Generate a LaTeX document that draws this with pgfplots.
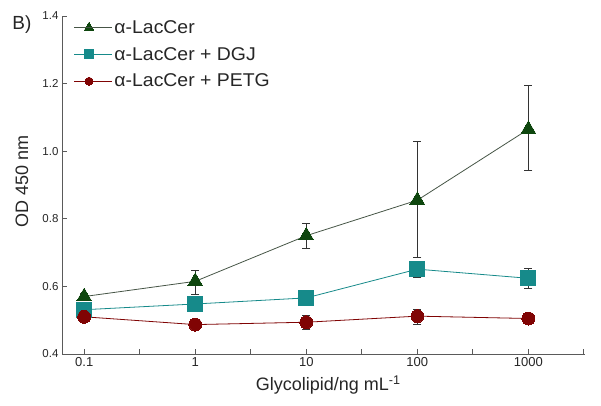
\documentclass[border=0pt]{standalone}
\usepackage{fontspec}
\setmainfont{Liberation Sans}
\newfontfamily\legfont[FakeStretch=1.05]{Liberation Sans}
\usepackage{pgfplots}
\usepackage{pgfplotstable}
\pgfplotsset{compat=1.18}
\definecolor{cgreen}{RGB}{14,70,14}
\definecolor{cgline}{RGB}{70,85,70}
\definecolor{cteal}{RGB}{22,138,138}
\definecolor{cred}{RGB}{128,4,4}
\definecolor{caxis}{RGB}{90,90,90}

\pgfplotstableread{
x y ep em
0 0.570 0.010 0.010
1 0.615 0.033 0.040
2 0.750 0.037 0.039
3 0.855 0.174 0.168
4 1.065 0.130 0.121
}\lac
\pgfplotstableread{
x y ep em
0 0.531 0.000 0.000
1 0.548 0.000 0.000
2 0.566 0.000 0.000
3 0.651 0.000 0.023
4 0.624 0.028 0.031
}\dgj
\pgfplotstableread{
x y ep em
0 0.510 0.008 0.008
1 0.487 0.005 0.005
2 0.494 0.020 0.022
3 0.512 0.020 0.023
4 0.505 0.006 0.006
}\petg

\begin{document}
\begin{tikzpicture}
\begin{axis}[
  at={(0,0)}, anchor=south west,
  scale only axis, width=523pt, height=338pt,
  xmin=-0.2, xmax=4.51, ymin=0.4, ymax=1.4,
  axis x line*=bottom, axis y line*=left,
  axis line style={-, draw=caxis, line width=0.9pt},
  xtick={0,1,2,3,4}, xticklabels={0.1,1,10,100,1000},
  minor xtick={0.5,1.5,2.5,3.5,4.5},
  ytick={0.4,0.6,0.8,1.0,1.2,1.4},
  /pgf/number format/fixed, /pgf/number format/fixed zerofill, /pgf/number format/precision=1,
  /pgf/number format/assume math mode=true,
  tick align=inside, major tick length=5pt, minor tick length=5pt,
  tick style={draw=caxis, line width=0.8pt},
  xticklabel style={font=\fontsize{13}{15}\selectfont, text=black!85},
  yticklabel style={font=\fontsize{11.5}{14}\selectfont, text=black!85},
  ylabel={OD 450 nm},
  xlabel={Glycolipid/ng mL\textsuperscript{-1}},
  label style={font=\fontsize{18}{20}\selectfont, text=black!85},
  ylabel style={at={(axis description cs:-0.0765,0.51)}, anchor=center},
  xlabel style={at={(axis description cs:0.509,-0.091)}, anchor=center},
  legend style={at={(axis description cs:0.02,0.997)}, anchor=north west, draw=none, fill=none,
    font=\legfont\fontsize{18.5}{20}\selectfont, text=black!85, row sep=8.5pt, inner sep=1pt},
  legend cell align=left,
  legend image code/.code={\draw[mark repeat=2,mark phase=2, every mark/.append style={scale=0.62}]
     plot coordinates {(0pt,0pt) (15pt,0pt) (30pt,0pt)}; \path (0pt,0pt) -- (38pt,0pt);},
  error bars/error bar style={draw=black!80, line width=0.8pt},
  error bars/error mark options={rotate=90, mark size=4pt, draw=black!80, line width=0.8pt},
]
\addplot[cgline, line width=0.8pt, mark=triangle*, mark size=8.5pt,
  mark options={draw=cgreen, fill=cgreen, line width=0pt},
  error bars/.cd, y dir=both, y explicit]
  table[x=x, y=y, y error plus=ep, y error minus=em] {\lac};
\addlegendentry{α-LacCer}
\addplot[cteal, line width=0.8pt, mark=square*, mark size=7.5pt,
  mark options={draw=cteal, fill=cteal, line width=0pt},
  error bars/.cd, y dir=both, y explicit]
  table[x=x, y=y, y error plus=ep, y error minus=em] {\dgj};
\addlegendentry{α-LacCer + DGJ}
\addplot[cred, line width=0.8pt, mark=*, mark size=6.5pt,
  mark options={draw=cred, fill=cred, line width=0pt},
  error bars/.cd, y dir=both, y explicit]
  table[x=x, y=y, y error plus=ep, y error minus=em] {\petg};
\addlegendentry{α-LacCer + PETG}
\end{axis}
\node[font=\fontsize{19}{21}\selectfont, text=black!85] at (-40pt,329pt) {B)};
\path[use as bounding box] (-62pt,-52pt) rectangle (539pt,354pt);
\end{tikzpicture}
\end{document}
